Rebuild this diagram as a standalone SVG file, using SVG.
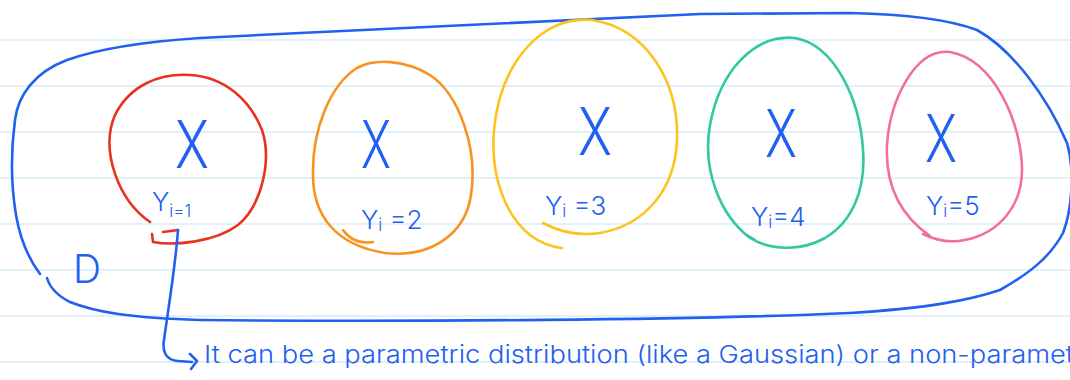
<svg xmlns="http://www.w3.org/2000/svg" width="1070" height="380" viewBox="0 0 1070 380">
<style>
.rule{stroke:#d6edfa;stroke-width:1.5}
.ink{fill:none;stroke-width:2.6;stroke-linecap:round;stroke-linejoin:round}
.blue{stroke:#2160f0}
.txt{font-family:Inter,'Open Sans','Liberation Sans',sans-serif;font-weight:300;fill:#2160f0}
.x{font-size:66px;text-anchor:middle}
.y{font-size:26px}
.sub{font-size:17px}
</style>
<rect width="1070" height="380" fill="#ffffff"/>
<g id="paper">
<line class="rule" x1="0" y1="40" x2="1070" y2="40"/>
<line class="rule" x1="0" y1="86" x2="1070" y2="86"/>
<line class="rule" x1="0" y1="132" x2="1070" y2="132"/>
<line class="rule" x1="0" y1="178" x2="1070" y2="178"/>
<line class="rule" x1="0" y1="224" x2="1070" y2="224"/>
<line class="rule" x1="0" y1="270" x2="1070" y2="270"/>
<line class="rule" x1="0" y1="316" x2="1070" y2="316"/>
<line class="rule" x1="0" y1="362" x2="1070" y2="362"/>
</g>
<g id="dataset-D">
<path class="ink blue" d="M40,274 C28,258 20,238 16,215 C11,185 11,150 15,120 C18,95 35,72 67,60 C95,50 140,42 200,38 L300,33 C450,26 600,18 700,14 L850,13 C900,14 945,18 977,30 C1013,50 1047,97 1067,143 C1075,170 1072,210 1063,233 C1050,257 1030,273 1000,290 C970,300 930,308 850,313 C700,320 400,322 200,320 C130,318 95,312 70,302 C58,296 50,288 47,278"/>
<text class="txt" x="73" y="283" font-size="40" textLength="28" lengthAdjust="spacingAndGlyphs">D</text>
</g>
<g id="node-1">
<path class="ink" stroke="#e8321e" d="M150,222 C118,200 100,150 115,115 C130,85 160,73 190,75 C225,77 250,100 262,130 C272,160 262,205 238,225 C215,242 175,246 153,242 L152,234 M163,232 L178,230"/>
<text class="txt x" x="192" y="168" textLength="34" lengthAdjust="spacingAndGlyphs">X</text>
<text class="txt y" x="152" y="211">Y<tspan class="sub" dy="6">i=1</tspan></text>
</g>
<g id="node-2">
<path class="ink" stroke="#f7931e" d="M313,175 C313,215 335,245 385,253 C430,258 465,235 471,195 C478,150 460,95 430,75 C405,60 375,58 357,68 C330,85 312,130 313,175 Z M343,230 C350,240 360,244 373,242"/>
<text class="txt x" x="376" y="168" textLength="30" lengthAdjust="spacingAndGlyphs">X</text>
<text class="txt y" x="361" y="229">Y<tspan class="sub" dy="2">i</tspan><tspan dy="-2"> =2</tspan></text>
</g>
<g id="node-3">
<path class="ink" stroke="#fcc31c" d="M543,223 C560,232 580,236 600,233 C645,225 675,190 677,140 C679,80 645,28 592,20 C540,15 500,65 494,130 C490,175 505,215 530,235 C542,244 552,247 562,248"/>
<text class="txt x" x="595" y="155" textLength="34" lengthAdjust="spacingAndGlyphs">X</text>
<text class="txt y" x="545" y="215">Y<tspan class="sub" dy="2">i</tspan><tspan dy="-2"> =3</tspan></text>
</g>
<g id="node-4">
<path class="ink" stroke="#33c7a2" d="M750,238 C770,250 800,252 825,238 C852,222 866,190 863,150 C860,100 835,45 795,38 C755,34 720,70 710,125 C702,170 720,215 750,238 Z M747,235 L755,240"/>
<text class="txt x" x="781" y="157" textLength="32" lengthAdjust="spacingAndGlyphs">X</text>
<text class="txt y" x="751" y="226">Y<tspan class="sub" dy="2">i</tspan><tspan dy="-2">=4</tspan></text>
</g>
<g id="node-5">
<path class="ink" stroke="#f36f98" d="M923,234 C935,240 950,243 965,240 C1000,233 1022,205 1022,170 C1022,125 995,60 950,52 C915,48 890,100 887,145 C885,185 900,215 930,236"/>
<text class="txt x" x="941" y="162" textLength="32" lengthAdjust="spacingAndGlyphs">X</text>
<text class="txt y" x="926" y="215">Y<tspan class="sub" dy="2">i</tspan><tspan dy="-2">=5</tspan></text>
</g>
<g id="connectors">
<path class="ink blue" d="M178,230 C175,270 168,310 164,340 C162,352 166,360 178,361 L192,362 M190,354 L197,361 L191,369"/>
</g>
<g id="note">
<text class="txt" x="204" y="363" font-size="24" textLength="870" lengthAdjust="spacingAndGlyphs">It can be a parametric distribution (like a Gaussian) or a non-paramet</text>
</g>
</svg>
